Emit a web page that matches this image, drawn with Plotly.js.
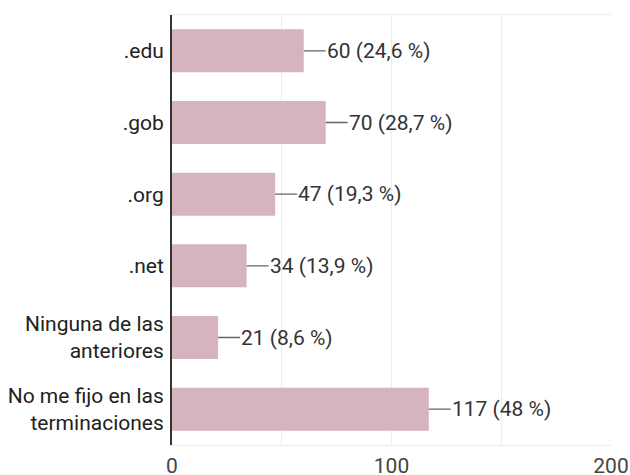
<!DOCTYPE html>
<html>
<head>
<meta charset="utf-8">
<script src="https://cdn.plot.ly/plotly-3.0.1.min.js"></script>
<style>html,body{margin:0;padding:0;background:#fff;}#chart{width:630px;height:475px;}</style>
</head>
<body>
<div id="chart"></div>
<script>
const categories = ['.edu', '.gob', '.org', '.net', 'Ninguna de las<br>anteriores', 'No me fijo en las<br>terminaciones'];
const counts = [60, 70, 47, 34, 21, 117];
const percents = ['24,6', '28,7', '19,3', '13,9', '8,6', '48'];
const xTickVals = [0, 50, 100, 150, 200];
const xTickText = ['0', '', '100', '', '200'];

const barColor = '#d6b4bd';
const font = 'Roboto, "Noto Sans", sans-serif';

const trace = {
  type: 'bar',
  orientation: 'h',
  y: categories,
  x: counts,
  marker: {color: barColor},
  width: 0.6,
  hoverinfo: 'none'
};

const annotations = categories.map((c, i) => ({
  x: counts[i],
  y: c,
  xref: 'x',
  yref: 'y',
  text: counts[i] + ' (' + percents[i] + ' %)',
  showarrow: true,
  arrowhead: 0,
  arrowwidth: 1.3,
  arrowcolor: '#666',
  ax: 22,
  ay: 0,
  xanchor: 'left',
  yanchor: 'middle',
  font: {family: font, size: 21, color: '#333'},
  borderpad: 0
}));

const layout = {
  width: 630,
  height: 475,
  margin: {l: 172, r: 19, t: 15, b: 30},
  paper_bgcolor: '#fff',
  plot_bgcolor: '#fff',
  showlegend: false,
  bargap: 0.4,
  xaxis: {
    range: [0, 200],
    tickvals: xTickVals,
    ticktext: xTickText,
    showgrid: true,
    gridcolor: '#ececec',
    gridwidth: 1,
    zeroline: false,
    showline: true,
    linecolor: '#ececec',
    mirror: true,
    ticks: '',
    ticklabelstandoff: 2,
    tickfont: {family: font, size: 21, color: '#444'},
    fixedrange: true
  },
  yaxis: {
    autorange: 'reversed',
    showgrid: false,
    zeroline: false,
    showline: true,
    linecolor: '#333',
    linewidth: 2,
    ticks: '',
    ticklabelstandoff: 2,
    tickfont: {family: font, size: 21, color: '#222'},
    fixedrange: true
  },
  annotations: annotations
};

Plotly.newPlot('chart', [trace], layout, {displayModeBar: false, staticPlot: true});
</script>
</body>
</html>
